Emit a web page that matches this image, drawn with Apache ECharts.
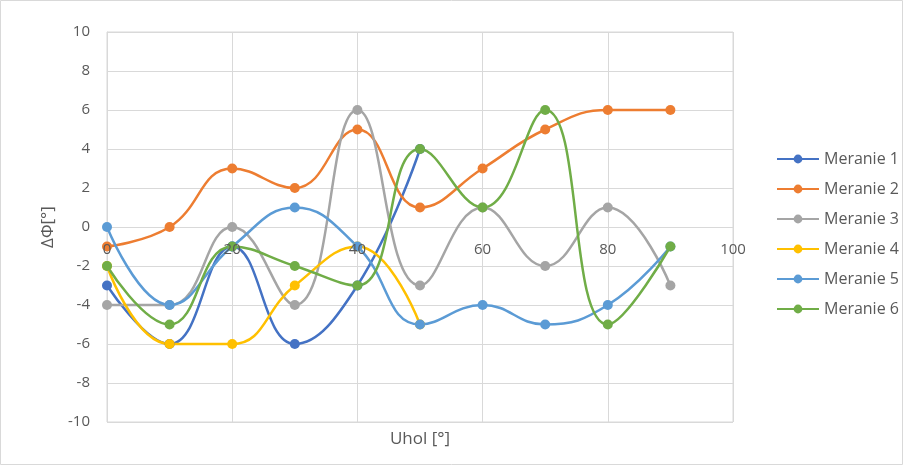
<!DOCTYPE html>
<html>
<head>
<meta charset="utf-8">
<script src="https://cdn.jsdelivr.net/npm/echarts@6/dist/echarts.min.js"></script>
<style>
  html, body { margin: 0; padding: 0; background: #fff; }
  #chart { width: 903px; height: 465px; }
</style>
</head>
<body>
<div id="chart"></div>
<script>
// Angle values (x) and the six measurement runs of the phase difference
const uhol = [0, 10, 20, 30, 40, 50, 60, 70, 80, 90];
const meranie1 = [-3, -6, -1, -6, -3, 4];
const meranie2 = [-1, 0, 3, 2, 5, 1, 3, 5, 6, 6];
const meranie3 = [-4, -4, 0, -4, 6, -3, 1, -2, 1, -3];
const meranie4 = [-2, -6, -6, -3, -1, -5];
const meranie5 = [0, -4, -1, 1, -1, -5, -4, -5, -4, -1];
const meranie6 = [-2, -5, -1, -2, -3, 4, 1, 6, -5, -1];

const seriesNames = ['Meranie 1', 'Meranie 2', 'Meranie 3', 'Meranie 4', 'Meranie 5', 'Meranie 6'];
const seriesValues = [meranie1, meranie2, meranie3, meranie4, meranie5, meranie6];
const colors = ['#4472C4', '#ED7D31', '#A5A5A5', '#FFC000', '#5B9BD5', '#70AD47'];

const font = '"Open Sans", "Liberation Sans", sans-serif';
const textColor = '#595959';
const gridColor = '#D9D9D9';

// Plot rectangle; the horizontal axis crosses the vertical one at value 0
const plot = { left: 107, top: 32, width: 626, height: 390 };
const xMin = 0, xMax = 100, xStep = 20;
const yMin = -10, yMax = 10, yStep = 2;
const zeroOffset = -plot.height * (0 - yMin) / (yMax - yMin);

const chart = echarts.init(document.getElementById('chart'));

chart.setOption({
  animation: false,
  color: colors,
  grid: { left: plot.left, top: plot.top, width: plot.width, height: plot.height,
          containLabel: false, outerBoundsMode: 'none' },
  xAxis: [
    {
      // gridlines, zero line and axis title (below the curves)
      type: 'value',
      min: xMin, max: xMax, interval: xStep,
      offset: zeroOffset,
      name: 'Uhol [°]',
      nameLocation: 'middle',
      nameGap: 204,
      nameTextStyle: { color: textColor, fontSize: 17, fontFamily: font },
      axisLine: { show: true, onZero: false, lineStyle: { color: gridColor, width: 1 } },
      axisTick: { show: false },
      axisLabel: { show: false },
      splitLine: { show: true, lineStyle: { color: gridColor, width: 1 } }
    },
    {
      // tick labels along the zero line, drawn on a layer above the curves
      type: 'value',
      position: 'bottom',
      min: xMin, max: xMax, interval: xStep,
      offset: zeroOffset,
      zlevel: 1,
      axisLine: { show: false, onZero: false },
      axisTick: { show: false },
      axisLabel: { color: textColor, fontSize: 15, fontFamily: font, margin: 15 },
      splitLine: { show: false }
    }
  ],
  yAxis: {
    type: 'value',
    min: yMin, max: yMax, interval: yStep,
    name: 'ΔΦ[°]',
    nameLocation: 'middle',
    nameGap: 48,
    nameTextStyle: { color: textColor, fontSize: 17, fontFamily: font },
    axisLine: { show: true, onZero: false, lineStyle: { color: gridColor, width: 1 } },
    axisTick: { show: false },
    axisLabel: { color: textColor, fontSize: 15, fontFamily: font, margin: 17 },
    splitLine: { show: true, lineStyle: { color: gridColor, width: 1 } }
  },
  legend: {
    orient: 'vertical',
    left: 776,
    top: 151,
    padding: 0,
    itemWidth: 42,
    itemHeight: 11,
    itemGap: 14,
    textStyle: { color: textColor, fontSize: 16, fontFamily: font },
    data: seriesNames
  },
  series: seriesNames.map((name, i) => ({
    name: name,
    type: 'line',
    xAxisIndex: 0,
    smooth: 0.45,
    symbol: 'circle',
    symbolSize: 10,
    lineStyle: { width: 2.5, color: colors[i] },
    itemStyle: { color: colors[i] },
    data: seriesValues[i].map((v, k) => [uhol[k], v])
  })),
  graphic: [
    { type: 'rect', shape: { x: plot.left, y: plot.top, width: plot.width, height: plot.height },
      style: { fill: 'none', stroke: gridColor, lineWidth: 1 }, silent: true },
    { type: 'rect', shape: { x: 0.5, y: 0.5, width: 902, height: 464 },
      style: { fill: 'none', stroke: gridColor, lineWidth: 1 }, silent: true }
  ]
});
</script>
</body>
</html>
